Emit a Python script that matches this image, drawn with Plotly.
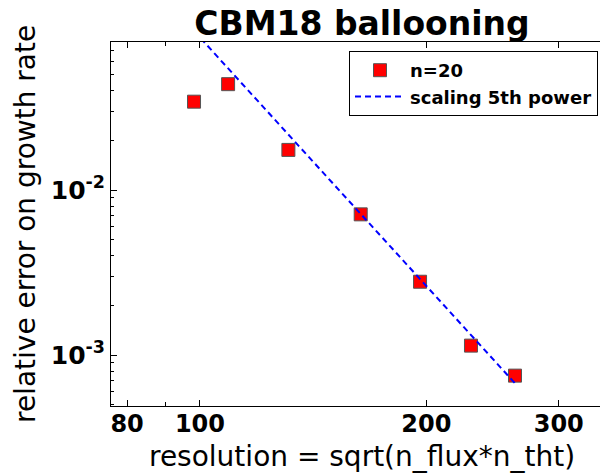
import plotly.graph_objects as go

# data
resolution = [98.2, 109.0, 131.1, 163.6, 196.2, 229.3, 262.4]
rel_error = [0.0343, 0.0438, 0.0175, 0.00712, 0.00278, 0.00114, 0.00075]

scaling_x = [98.2, 262.4]
scaling_y = [0.092, 0.000674]

x_ticks = [80, 100, 200, 300]
x_ticktext = ["80", "100", "200", "300"]
x_minor = [90]
y_ticks = [1e-3, 1e-2]
y_ticktext = ["<b>10<sup>-3</sup></b>", "<b>10<sup>-2</sup></b>"]
y_minor = [m * 10.0 ** e for e in (-4, -3, -2) for m in range(2, 10)]

W, H = 601, 473
L, R, T, B = 111, 1, 42, 67
FONT = "DejaVu Sans"

fig = go.Figure()
fig.add_trace(go.Scatter(
    x=resolution, y=rel_error, mode="markers", name="n=20",
    marker=dict(symbol="square", size=13, color="#ff0000",
                line=dict(color="#555555", width=1)),
))
fig.add_trace(go.Scatter(
    x=scaling_x, y=scaling_y, mode="lines", name="scaling 5th power",
    line=dict(color="#0000ff", width=2, dash="6px,4px"),
))

pw = W - L - R
ph = H - T - B

fig.update_layout(
    width=W, height=H,
    margin=dict(l=L, r=R, t=T, b=B, autoexpand=False),
    paper_bgcolor="white", plot_bgcolor="white",
    font=dict(family=FONT, color="black"),
    title=dict(text="<b>CBM18 ballooning</b>", font=dict(size=33, family=FONT),
               x=362 / W, xanchor="center", xref="container",
               y=1 - 23 / H, yanchor="middle", yref="container"),
    showlegend=True,
    legend=dict(x=(349 - L) / pw, y=(H - B - 51) / ph, xanchor="left", yanchor="top",
                bgcolor="white", bordercolor="black", borderwidth=1,
                font=dict(size=18, family=FONT, weight="bold"),
                itemwidth=50, entrywidth=290, tracegroupgap=0),
    xaxis=dict(type="log", range=[1.8817, 2.532],
               tickvals=x_ticks, ticktext=x_ticktext,
               ticks="inside", ticklen=6, tickcolor="black",
               tickfont=dict(size=24, family=FONT, weight="bold"),
               ticklabelstandoff=-4,
               showline=True, linecolor="black", linewidth=1, mirror="ticks",
               showgrid=False, zeroline=False,
               minor=dict(tickvals=x_minor, ticks="inside", ticklen=4,
                          tickcolor="black", showgrid=False)),
    yaxis=dict(type="log", range=[-3.309, -1.103],
               tickvals=y_ticks, ticktext=y_ticktext,
               ticks="inside", ticklen=6, tickcolor="black",
               tickfont=dict(size=25, family=FONT),
               showline=True, linecolor="black", linewidth=1, mirror=False,
               showgrid=False, zeroline=False,
               minor=dict(tickvals=y_minor, ticks="inside", ticklen=3,
                          tickcolor="black", showgrid=False)),
    annotations=[
        dict(text="resolution = sqrt(n_flux*n_tht)", xref="paper", yref="paper",
             x=(362 - L) / pw, y=(H - B - 456) / ph, xanchor="center", yanchor="middle",
             showarrow=False, font=dict(size=28, family=FONT)),
        dict(text="relative error on growth rate", xref="paper", yref="paper",
             x=(25 - L) / pw, y=(H - B - 224) / ph, xanchor="center", yanchor="middle",
             textangle=-90, showarrow=False, font=dict(size=28, family=FONT)),
    ],
)

fig.write_html("out.html", config={"displayModeBar": False},
               post_script="document.body.style.margin='0';")
